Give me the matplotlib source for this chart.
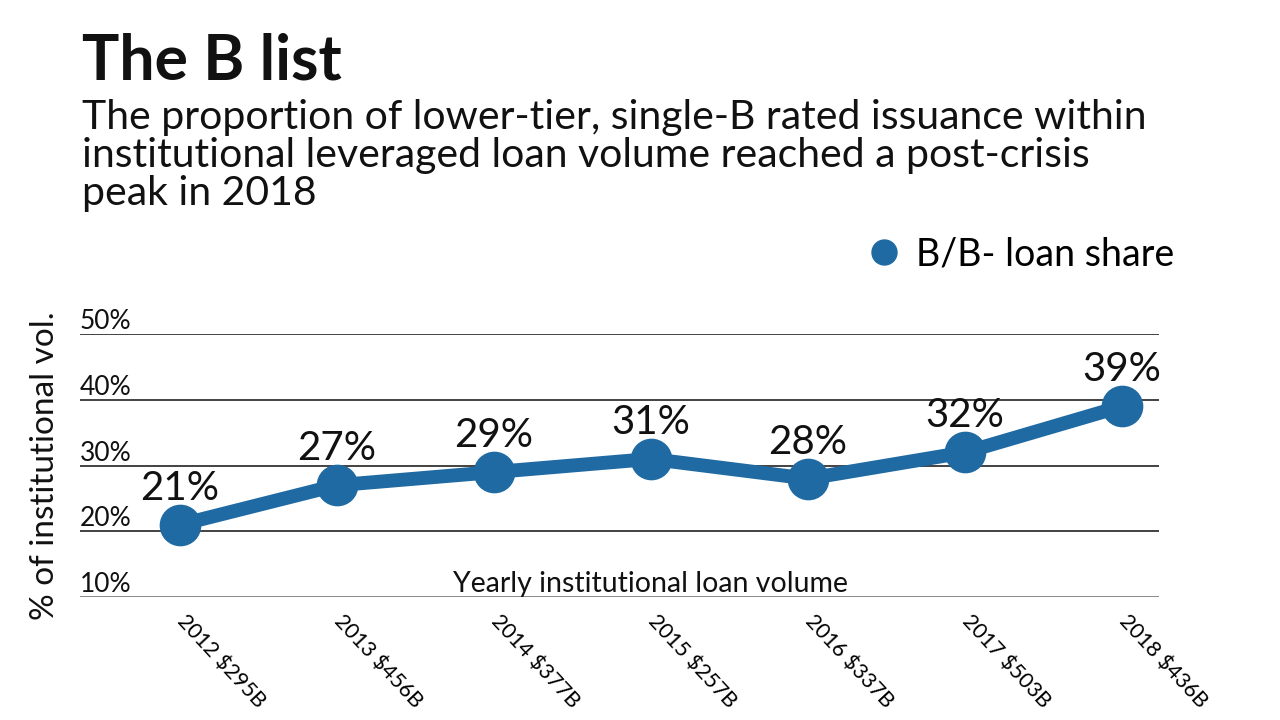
import matplotlib
matplotlib.use("Agg")
import matplotlib.pyplot as plt

plt.rcParams['font.family'] = ['Lato', 'DejaVu Sans']

years = ["2012", "2013", "2014", "2015", "2016", "2017", "2018"]
volumes = ["$295B", "$456B", "$377B", "$257B", "$337B", "$503B", "$436B"]
share = [21, 27, 29, 31, 28, 32, 39]
yticks = [10, 20, 30, 40, 50]

color = "#1f6aa3"

fig = plt.figure(figsize=(12.8, 7.2), dpi=100)
ax = fig.add_axes([80/1280, 1-597/720, (1159-80)/1280, (597-334)/720])

x = list(range(len(share)))
ax.plot(x, share, color=color, lw=10, marker='o', ms=29, solid_capstyle='round',
        zorder=3, clip_on=False, label="B/B- loan share")
for xi, v in zip(x, share):
    ax.annotate(f"{v}%", (xi, v), xytext=(0, 18), textcoords='offset points',
                ha='center', va='baseline', fontsize=29, color='#111111')

ax.set_xlim(-0.637, 6.236)
ax.set_ylim(10, 50)
for s in ax.spines.values():
    s.set_visible(False)
for t in yticks:
    ax.axhline(t, color='#222222' if t != 10 else '#777777', lw=1.2, zorder=1)
    ax.text(0, t, f"{t}%", transform=ax.get_yaxis_transform(), ha='left', va='bottom',
            fontsize=19, color='#111111')
ax.set_yticks([])
ax.set_xticks(x)
ax.set_xticklabels([f"{y} {v}" for y, v in zip(years, volumes)], rotation=-47,
                   ha='left', va='center', rotation_mode='anchor', fontsize=15.5)
ax.tick_params(axis='x', length=0, pad=15)
ax.text(3, 10, "Yearly institutional loan volume", ha='center', va='bottom',
        fontsize=20.5, color='#111111', transform=ax.transData)

fig.text(45/1280, 1-466/720, "% of institutional vol.", rotation=90, ha='center',
         va='center', fontsize=24, color='#111111')

fig.text(82/1280, 1-62/720, "The B list", fontsize=45, fontweight='bold',
         ha='left', va='center', color='#111111')
fig.text(82/1280, 1-99/720,
         "The proportion of lower-tier, single-B rated issuance within\n"
         "institutional leveraged loan volume reached a post-crisis\n"
         "peak in 2018", fontsize=29.5, ha='left', va='top', color='#111111',
         linespacing=1.03)

fig.legend(loc='center right', bbox_to_anchor=(1193/1280, 1-254/720), frameon=False,
           fontsize=27, handlelength=0.5, handletextpad=0.6, markerscale=0.62,
           borderpad=0)
leg = fig.legends[0]
for h in leg.legend_handles:
    h.set_linestyle('none')

fig.savefig("out.png", dpi=100)
